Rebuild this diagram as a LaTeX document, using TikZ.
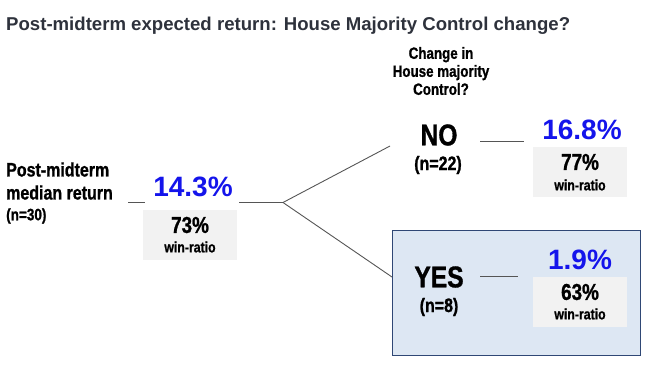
\documentclass[tikz,border=0pt]{standalone}
\usepackage{fontspec}
\setmainfont{Liberation Sans}
\newfontfamily\narrowf[FakeStretch=0.82,FakeBold=1]{Liberation Sans Bold}
\newfontfamily\titlef{Liberation Sans Bold}
\definecolor{titlec}{HTML}{2E323C}
\definecolor{numblue}{RGB}{20,20,235}
\definecolor{greybox}{HTML}{F2F2F2}
\definecolor{yesfill}{HTML}{DDE7F3}
\definecolor{yesedge}{HTML}{2F4775}
\definecolor{linec}{HTML}{555555}
\tikzset{
  nar/.style={font=\narrowf, inner sep=0pt, text=black},
  bignum/.style={font=\titlef\fontsize{28}{30}\selectfont, text=numblue, inner sep=0pt},
  gbox/.style={fill=greybox, draw=none, minimum width=94pt, minimum height=50pt, inner sep=0pt},
  conn/.style={draw=linec, line width=0.9pt},
}
\begin{document}
\begin{tikzpicture}[x=1pt,y=-1pt]
\useasboundingbox (0,0) rectangle (650,373);
% title
\node[anchor=base west, inner sep=0pt, text=titlec, font=\titlef\fontsize{18.6}{20}\selectfont] (title) at (6,30) {Post-midterm expected return: House Majority Control change?};
% question
\node[nar, align=center, font=\narrowf\fontsize{16.3}{18}\selectfont] (q) at (441,71) {Change in\\House majority\\Control?};
% YES box
\node[fill=yesfill, draw=yesedge, line width=1pt, minimum width=248pt, minimum height=125pt, inner sep=0pt] (yesbox) at (516,292.5) {};
% left label
\node[nar, anchor=west, align=left, font=\narrowf\fontsize{19.5}{23}\selectfont] (lab) at (6,181) {Post-midterm\\median return};
\node[nar, anchor=west, font=\narrowf\fontsize{16.5}{18}\selectfont] (n30) at (6,216) {(n=30)};
% root
\node[bignum] (r) at (193,187) {14.3\%};
\node[gbox] (rb) at (190,234.5) {};
\node[nar, font=\narrowf\fontsize{23}{24}\selectfont] (r1) at (190,225) {73\%};
\node[nar, font=\narrowf\fontsize{15}{16}\selectfont] (r2) at (190,247) {win-ratio};
\coordinate (l1a) at (128,202.5);
\coordinate (l1b) at (145,202.5);
\coordinate (l2a) at (239,202.5);
\coordinate (fork) at (283,202.5);
\coordinate (noend) at (390,146);
\coordinate (yesend) at (392,277);
\draw[conn] (l1a) -- (l1b);
\draw[conn] (l2a) -- (fork);
\draw[conn] (fork) -- (noend);
\draw[conn] (fork) -- (yesend);
% NO
\node[nar, font=\narrowf\fontsize{30}{32}\selectfont] (no) at (439,135) {NO};
\node[nar, font=\narrowf\fontsize{19.5}{20}\selectfont] (n22) at (438,165) {(n=22)};
\coordinate (nla) at (480,141.5);
\coordinate (nlb) at (524,141.5);
\draw[conn] (nla) -- (nlb);
\node[bignum] (nn) at (582,130) {16.8\%};
\node[gbox] (nb) at (580,172) {};
\node[nar, font=\narrowf\fontsize{23}{24}\selectfont] (n1) at (580,162) {77\%};
\node[nar, font=\narrowf\fontsize{15}{16}\selectfont] (n2) at (580,185) {win-ratio};
% YES
\node[nar, font=\narrowf\fontsize{30}{32}\selectfont] (yes) at (439,277) {YES};
\node[nar, font=\narrowf\fontsize{19.5}{20}\selectfont] (n8) at (439,307) {(n=8)};
\coordinate (yla) at (480,276);
\coordinate (ylb) at (518,276);
\draw[conn] (yla) -- (ylb);
\node[bignum] (yn) at (580,260) {1.9\%};
\node[gbox] (yb) at (580,302) {};
\node[nar, font=\narrowf\fontsize{23}{24}\selectfont] (y1) at (580,292) {63\%};
\node[nar, font=\narrowf\fontsize{15}{16}\selectfont] (y2) at (580,314) {win-ratio};
\end{tikzpicture}
\end{document}
